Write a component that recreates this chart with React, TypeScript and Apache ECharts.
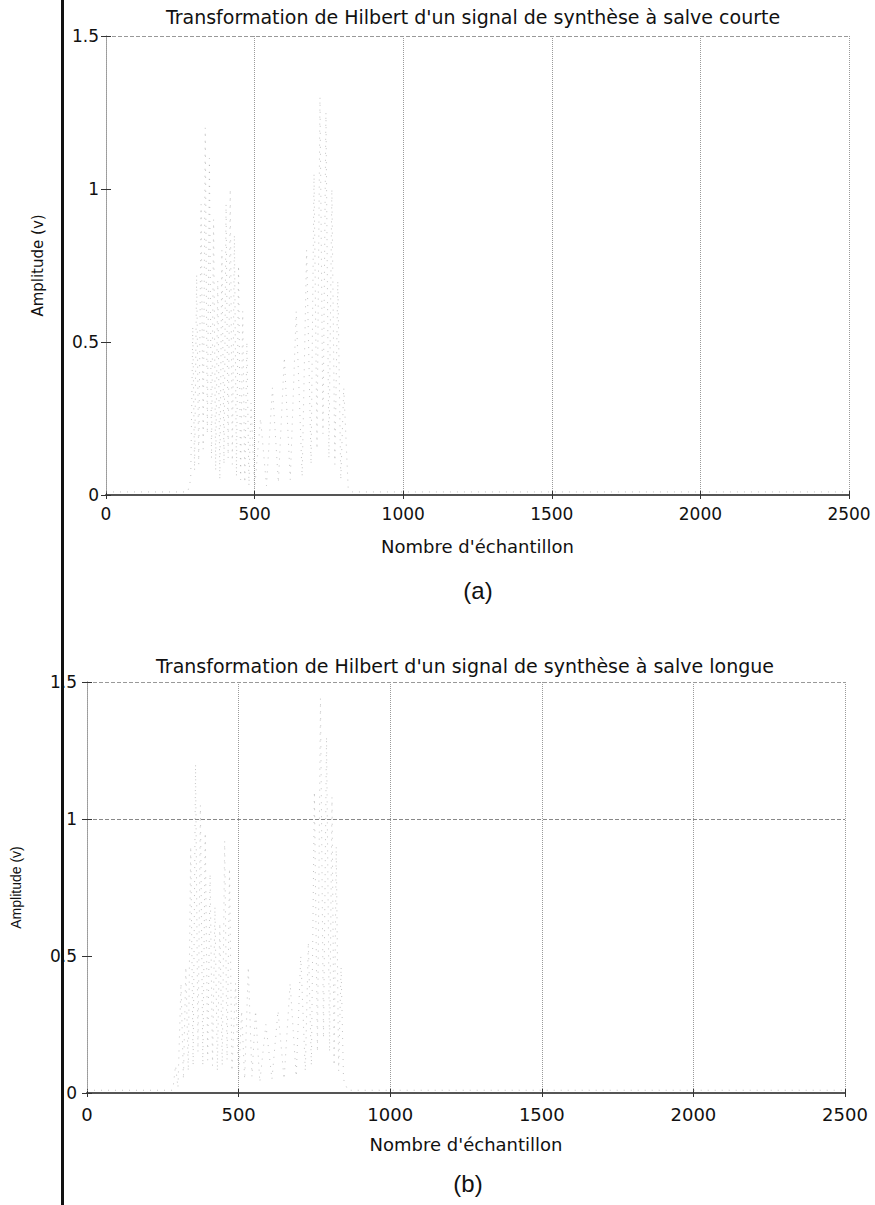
import React, { useEffect, useRef } from "react";
import * as echarts from "echarts";

const xTicks = [0, 500, 1000, 1500, 2000, 2500];
const yMax = 1.5;

const titleA = "Transformation de Hilbert d'un signal de synthèse à salve courte";
const titleB = "Transformation de Hilbert d'un signal de synthèse à salve longue";
const xName = "Nombre d'échantillon";
const yName = "Amplitude (v)";

// Hilbert envelope, short burst (a): [sample, amplitude]
const signalA: [number, number][] = [
  [0, 0.01], [275, 0.01], [285, 0.05], [292, 0.55], [298, 0.08], [305, 0.72], [312, 0.1],
  [320, 0.95], [327, 0.15], [334, 1.2], [341, 0.2], [348, 1.1], [355, 0.12], [362, 0.9],
  [369, 0.08], [376, 0.7], [383, 0.05], [390, 0.8], [397, 0.1], [404, 0.95], [411, 0.12],
  [418, 1.0], [425, 0.1], [432, 0.85], [439, 0.06], [446, 0.75], [453, 0.05], [460, 0.6],
  [467, 0.04], [474, 0.5], [481, 0.03], [488, 0.3], [500, 0.02], [520, 0.25], [540, 0.03],
  [560, 0.35], [580, 0.04], [600, 0.45], [620, 0.05], [640, 0.6], [660, 0.06], [675, 0.8],
  [690, 0.1], [700, 1.05], [710, 0.15], [720, 1.3], [730, 0.2], [740, 1.25], [750, 0.12],
  [760, 1.0], [770, 0.1], [780, 0.7], [790, 0.05], [800, 0.35], [815, 0.02], [830, 0.01],
  [2500, 0.01],
];

// Hilbert envelope, long burst (b): [sample, amplitude]
const signalB: [number, number][] = [
  [0, 0.01], [280, 0.01], [285, 0.03], [292, 0.1], [300, 0.02], [310, 0.4], [318, 0.05],
  [326, 0.46], [334, 0.08], [342, 0.9], [350, 0.1], [358, 1.2], [366, 0.15], [374, 1.05],
  [382, 0.1], [390, 0.95], [398, 0.12], [406, 0.8], [414, 0.1], [422, 0.68], [430, 0.08],
  [438, 0.62], [446, 0.1], [454, 0.92], [462, 0.12], [470, 0.82], [478, 0.08], [490, 0.4],
  [500, 0.05], [510, 0.3], [520, 0.05], [532, 0.46], [544, 0.06], [556, 0.3], [570, 0.04],
  [590, 0.25], [610, 0.05], [630, 0.3], [650, 0.05], [670, 0.4], [690, 0.06], [705, 0.5],
  [720, 0.08], [730, 0.55], [740, 0.1], [750, 1.1], [760, 0.15], [770, 1.44], [780, 0.2],
  [790, 1.3], [800, 0.15], [808, 1.08], [815, 0.1], [822, 0.9], [830, 0.08], [838, 0.46],
  [846, 0.05], [860, 0.01], [2500, 0.01],
];

const FONT = "DejaVu Sans";
const T = "rgba(0,0,0,0)";

function bottomX(grid: number, labelSize: number, margin: number) {
  return {
    type: "value",
    gridIndex: grid,
    min: xTicks[0],
    max: xTicks[xTicks.length - 1],
    interval: 500,
    axisLine: { show: true, lineStyle: { color: "#555", width: 2 } },
    axisTick: { show: true, inside: true, length: 4, lineStyle: { color: "#333" } },
    axisLabel: { fontFamily: FONT, fontSize: labelSize, color: "#111", margin, formatter: (v: number) => String(v) },
    splitLine: { show: true, lineStyle: { color: "#9a9a9a", type: "dotted", width: 1 } },
    name: xName,
    nameLocation: "middle",
    nameGap: 42,
    nameTextStyle: { fontFamily: FONT, fontSize: 18, color: "#111" },
  };
}

function topX(grid: number) {
  return {
    type: "value",
    gridIndex: grid,
    position: "top",
    min: 0,
    max: 2500,
    interval: 500,
    axisLine: { show: false },
    axisTick: { show: true, inside: true, length: 4, lineStyle: { color: "#333" } },
    axisLabel: { show: false },
    splitLine: { show: false },
  };
}

function leftY(grid: number, colors: string[], nameGap: number, nameFont: string, nameSize: number, margin: number) {
  return {
    type: "value",
    gridIndex: grid,
    min: 0,
    max: yMax,
    interval: 0.5,
    axisLine: { show: true, lineStyle: { color: "#999", type: "dotted", width: 1 } },
    axisTick: { show: true, inside: true, length: 5, lineStyle: { color: "#333" } },
    axisLabel: { fontFamily: FONT, fontSize: 17, color: "#111", margin },
    splitLine: { show: true, lineStyle: { color: colors, type: "dashed", width: 1 } },
    name: yName,
    nameLocation: "middle",
    nameGap,
    nameRotate: 90,
    nameTextStyle: { fontFamily: nameFont, fontSize: nameSize, color: "#111" },
  };
}

function rightY(grid: number) {
  return {
    type: "value",
    gridIndex: grid,
    position: "right",
    min: 0,
    max: yMax,
    interval: 0.5,
    axisLine: { show: true, lineStyle: { color: "#999", type: "dotted" } },
    axisTick: { show: true, inside: true, length: 5, lineStyle: { color: "#333" } },
    axisLabel: { show: false },
    splitLine: { show: false },
  };
}

const signalStyle = { color: "#b4b4b4", width: 0.8, type: [1, 6] };

export default function App() {
  const ref = useRef<HTMLDivElement>(null);
  useEffect(() => {
    if (!ref.current) return;
    const chart = echarts.init(ref.current, undefined, { renderer: "svg" });
    chart.setOption({
      animation: false,
      backgroundColor: "#ffffff",
      grid: [
        { left: 106, top: 36, width: 743, height: 459 },
        { left: 87, top: 682, width: 758, height: 411 },
      ],
      xAxis: [bottomX(0, 17, 10), topX(0), bottomX(1, 18, 12), topX(1)],
      yAxis: [
        leftY(0, [T, T, T, "#999"], 61, FONT, 15, 7),
        rightY(0),
        leftY(1, [T, T, "#888", "#999"], 64, "Liberation Sans", 14, 10),
        rightY(1),
      ],
      series: [
        {
          type: "line",
          xAxisIndex: 0,
          yAxisIndex: 0,
          data: signalA,
          showSymbol: false,
          silent: true,
          lineStyle: signalStyle,
        },
        {
          type: "line",
          xAxisIndex: 2,
          yAxisIndex: 2,
          data: signalB,
          showSymbol: false,
          silent: true,
          lineStyle: signalStyle,
        },
      ],
      graphic: [
        { type: "rect", shape: { x: 61, y: 0, width: 3, height: 1205 }, style: { fill: "#111" }, silent: true },
        {
          type: "text",
          x: 473,
          y: 17,
          style: { text: titleA, fontFamily: FONT, fontSize: 19, fill: "#111", textAlign: "center", textVerticalAlign: "middle" },
        },
        {
          type: "text",
          x: 478,
          y: 590,
          style: { text: "(a)", fontFamily: "Liberation Sans", fontSize: 24, fill: "#111", textAlign: "center", textVerticalAlign: "middle" },
        },
        {
          type: "text",
          x: 465,
          y: 666,
          style: { text: titleB, fontFamily: FONT, fontSize: 19, fill: "#111", textAlign: "center", textVerticalAlign: "middle" },
        },
        {
          type: "text",
          x: 468,
          y: 1183,
          style: { text: "(b)", fontFamily: "Liberation Sans", fontSize: 24, fill: "#111", textAlign: "center", textVerticalAlign: "middle" },
        },
      ],
    });
    return () => chart.dispose();
  }, []);
  return <div ref={ref} style={{ position: "absolute", left: 0, top: 0, width: 875, height: 1205 }} />;
}
